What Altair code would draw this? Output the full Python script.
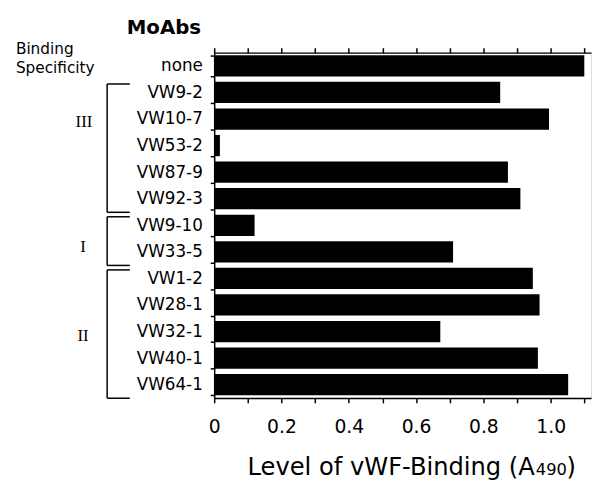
import altair as alt
import pandas as pd

# ---- data ----
names = ["none", "VW9-2", "VW10-7", "VW53-2", "VW87-9", "VW92-3",
         "VW9-10", "VW33-5", "VW1-2", "VW28-1", "VW32-1", "VW40-1", "VW64-1"]
values = [1.10, 0.85, 0.995, 0.017, 0.873, 0.91,
          0.12, 0.71, 0.947, 0.967, 0.672, 0.962, 1.052]

groups = ["III", "I", "II"]
group_first = ["VW9-2", "VW9-10", "VW1-2"]
group_last = ["VW92-3", "VW33-5", "VW64-1"]

x_ticks = [0, 0.1, 0.2, 0.3, 0.4, 0.5, 0.6, 0.7, 0.8, 0.9, 1.0, 1.1]

df = pd.DataFrame({"name": names, "value": values})
gdf = pd.DataFrame({"group": groups, "first": group_first, "last": group_last})

FONT = "DejaVu Sans"
W, H = 382, 350

xscale = alt.Scale(domain=[0, 1.12], nice=False, zero=True)
yscale = alt.Scale(domain=names, paddingInner=0.2, paddingOuter=0.1)

bottom_axis = alt.Axis(
    values=x_ticks, orient="bottom", title=None, grid=False,
    labelExpr="(round(datum.value*10) % 2 == 0) ? (datum.value == 0 ? '0' : format(datum.value, '.1f')) : ''",
    labelFont=FONT, labelFontSize=19, labelColor="black", labelPadding=15,
    tickSize=5, tickColor="black", tickWidth=1.5,
    domainColor="black", domainWidth=1.5, labelFlush=False, labelOverlap=False,
)
top_axis = alt.Axis(
    values=x_ticks, orient="top", title=None, grid=False, labels=False,
    tickSize=5, tickColor="black", tickWidth=1.5,
    domainColor="black", domainWidth=1.5,
)
y_axis = alt.Axis(
    title=None, orient="left", labelFont=FONT, labelFontSize=17, labelColor="black",
    labelPadding=8, tickSize=4, tickBand="extent", tickColor="black", tickWidth=1.5,
    domainColor="black", domainWidth=1.5, labelLimit=200,
)

bars = alt.Chart(df).mark_bar(color="black").encode(
    x=alt.X("value:Q", scale=xscale, axis=bottom_axis),
    y=alt.Y("name:N", scale=yscale, sort=names, axis=y_axis),
)
top = alt.Chart(df).mark_bar(opacity=0).encode(
    x=alt.X("value:Q", scale=xscale, axis=top_axis),
    y=alt.Y("name:N", scale=yscale, sort=names, axis=y_axis),
)

# brackets for binding-specificity groups
BX, BX2 = -108.5, -85.5
vline = alt.Chart(gdf).mark_rule(color="black", strokeWidth=1.5, y2Offset=3).encode(
    x=alt.value(BX),
    y=alt.Y("first:N", scale=yscale, sort=names, axis=y_axis, bandPosition=0.1),
    y2=alt.Y2("last:N", bandPosition=1),
)
top_arm = alt.Chart(gdf).mark_rule(color="black", strokeWidth=1.5).encode(
    x=alt.value(BX), x2=alt.value(BX2),
    y=alt.Y("first:N", scale=yscale, sort=names, axis=y_axis, bandPosition=0.1),
)
bot_arm = alt.Chart(gdf).mark_rule(color="black", strokeWidth=1.5, yOffset=3).encode(
    x=alt.value(BX), x2=alt.value(BX2),
    y=alt.Y("last:N", scale=yscale, sort=names, axis=y_axis, bandPosition=1),
)

one = pd.DataFrame({"a": [0]})


def label(txt, x, y, size, align="left", weight="normal", font=FONT, baseline="alphabetic"):
    return alt.Chart(one).mark_text(
        text=txt, align=align, baseline=baseline, font=font, fontSize=size,
        fontWeight=weight, color="black",
    ).encode(x=alt.value(x), y=alt.value(y))


texts = [
    label("MoAbs", -51, -19, 20, align="center", weight="bold"),
    label("Binding", -201, 1, 15.5),
    label("Specificity", -201, 21, 15.5),
    label("III", -132, 70, 17, align="center", font="Liberation Serif", baseline="middle"),
    label("I", -133, 197, 17, align="center", font="Liberation Serif", baseline="middle"),
    label("II", -133, 287, 17, align="center", font="Liberation Serif", baseline="middle"),
    label("Level of vWF-Binding (A", 325, 428, 24.5, align="right"),
    label("490", 326, 428, 16.5),
    label(")", 357, 428, 24.5),
]

chart = alt.layer(bars, top, vline, top_arm, bot_arm, *texts).properties(
    width=W, height=H,
    autosize=alt.AutoSizeParams(type="none"),
    padding={"left": 209, "top": 42, "right": 3, "bottom": 84},
).configure_view(stroke="black", strokeWidth=1.5).configure(background="white")

chart.save("out.html", embed_options={"renderer": "svg", "actions": False})
